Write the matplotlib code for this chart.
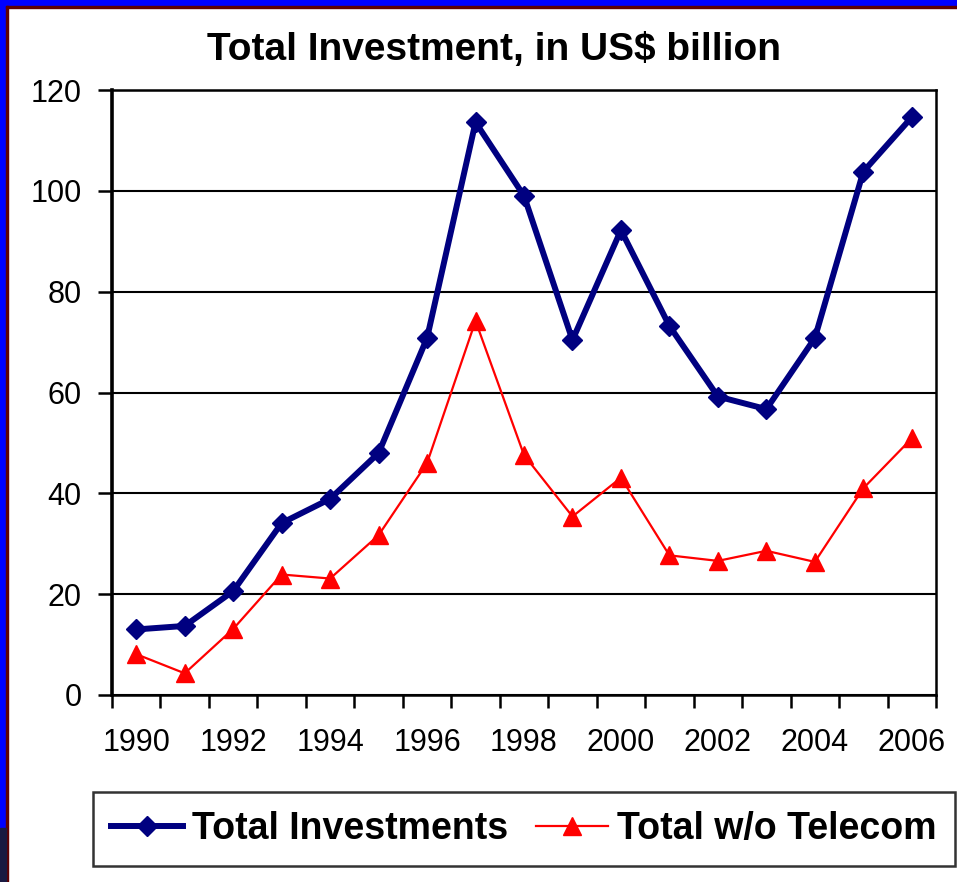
import matplotlib
matplotlib.use("Agg")
import matplotlib.pyplot as plt
from matplotlib.patches import Rectangle
from matplotlib.lines import Line2D

years = [str(y) for y in range(1990, 2007)]
total_investments = [13.0, 13.7, 20.6, 34.1, 38.9, 48.0, 70.8, 113.6, 99.0, 70.4,
                     92.2, 73.2, 59.2, 56.7, 70.8, 103.8, 114.6]
total_wo_telecom = [8.1, 4.3, 13.1, 23.9, 23.1, 31.7, 46.0, 74.2, 47.6, 35.4,
                    43.1, 27.7, 26.6, 28.6, 26.4, 41.0, 50.9]
title = "Total Investment, in US$ billion"
series_names = ["Total Investments", "Total w/o Telecom"]
yticks = [0, 20, 40, 60, 80, 100, 120]

plt.rcParams['font.family'] = ['Liberation Sans', 'DejaVu Sans']

W, H = 957, 882
fig = plt.figure(figsize=(W / 100, H / 100), dpi=100)
fig.patch.set_facecolor('white')

ax = fig.add_axes([112 / W, 1 - 695 / H, (936 - 112) / W, (695 - 90) / H])
x = list(range(len(years)))
ax.plot(x, total_investments, color='#000080', lw=4.3, marker='D', ms=10,
        markeredgecolor='#000080', markerfacecolor='#000080', zorder=4, clip_on=False)
ax.plot(x, total_wo_telecom, color='#FF0000', lw=1.6, marker='^', ms=13,
        markeredgecolor='#FF0000', markerfacecolor='#FF0000', zorder=3, clip_on=False)

ax.set_xlim(-0.5, len(years) - 0.5)
ax.set_ylim(0, 120)
ax.set_yticks(yticks)
ax.set_yticklabels([str(v) for v in yticks], fontsize=22)
ax.yaxis.grid(True, color='black', lw=1.5)
ax.set_axisbelow(True)

ax.set_xticks([i - 0.5 for i in range(len(years) + 1)])
ax.set_xticklabels([])
ax.set_xticks(x[::2], minor=True)
ax.set_xticklabels(years[::2], minor=True, fontsize=22)
ax.tick_params(axis='x', which='major', direction='out', length=9, width=1.8)
ax.tick_params(axis='x', which='minor', length=0, pad=24)
ax.tick_params(axis='y', direction='out', length=10, width=1.8, pad=12)

for side in ['top', 'right', 'bottom']:
    ax.spines[side].set_linewidth(1.8)
ax.spines['left'].set_linewidth(2.6)

fig.text(494 / W, 1 - 50 / H, title, ha='center', va='center', fontsize=28,
         fontweight='bold')

handles = [Line2D([], [], color='#000080', lw=4.3, marker='D', ms=10),
           Line2D([], [], color='#FF0000', lw=1.6, marker='^', ms=13)]
leg = fig.legend(handles, series_names, loc='center',
                 bbox_to_anchor=(524 / W, 1 - 829 / H), ncol=2, frameon=True,
                 fancybox=False, edgecolor='black', prop={'weight': 'bold', 'size': 27},
                 handlelength=1.9, handletextpad=0.25, columnspacing=0.75,
                 borderpad=0.5, borderaxespad=0)
leg.get_frame().set_linewidth(1.8)

# slide frame
fig.patches.append(Rectangle((0, 0), 6 / W, 1, transform=fig.transFigure,
                             color='#0000FF', zorder=10))
fig.patches.append(Rectangle((0, 0), 6 / W, 54 / H, transform=fig.transFigure,
                             color='#1A1A40', zorder=11))
fig.patches.append(Rectangle((0, 1 - 6 / H), 1, 6 / H, transform=fig.transFigure,
                             color='#0000FF', zorder=10))
fig.patches.append(Rectangle((6 / W, 0), 1.5 / W, 1 - 6 / H, transform=fig.transFigure,
                             color='#600000', zorder=10))
fig.patches.append(Rectangle((6 / W, 1 - 7.5 / H), 1 - 6 / W, 1.5 / H,
                             transform=fig.transFigure, color='#600000', zorder=10))

fig.savefig('out.png', dpi=100)
